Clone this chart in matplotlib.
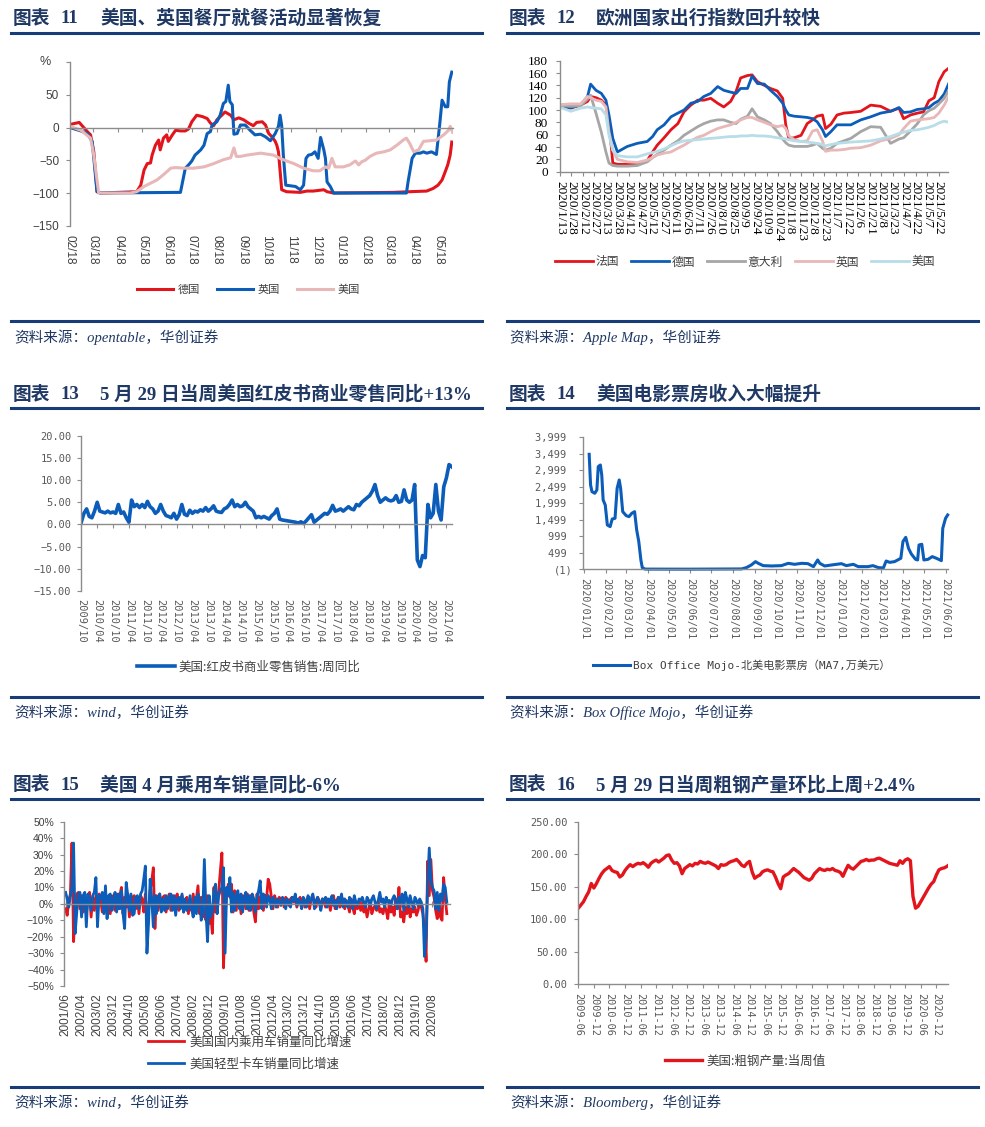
import numpy as np
import pandas as pd
import matplotlib
matplotlib.use('Agg')
import matplotlib.pyplot as plt
from matplotlib.lines import Line2D
from matplotlib.font_manager import FontProperties

# ---------------- 数据 ----------------
# 图表11 餐厅就餐(%), 横轴: 2020-02-18 起的天数
de_day = [1, 12, 22, 26, 30, 34, 38, 83, 88, 92, 96, 100, 102, 106, 110, 112, 116, 120, 122, 127,
          131, 137, 143, 147, 151, 157, 164, 170, 174, 178, 182, 188, 192, 199, 203, 209, 215, 221,
          227, 231, 238, 242, 246, 250, 254, 256, 258, 262, 268, 285, 293, 301, 314, 318, 326, 400,
          420, 441, 449, 455, 460, 464, 467, 470, 472]
de_val = [5, 8, -6, -11, -37, -98, -100, -98, -88, -65, -55, -54, -42, -27, -19, -34, -16, -11, -21, -11,
          -4, -5, -5, -2, 9, 19, 17, 14, 7, 3, 12, 19, 24, 19, 12, 15, 12, 7,
          3, 8, 9, 4, -9, -14, -21, -27, -37, -95, -98, -99, -97, -97, -95, -98, -100, -99,
          -98, -97, -93, -88, -80, -67, -57, -42, -22]
uk_day = [1, 14, 22, 28, 34, 38, 137, 143, 147, 151, 155, 162, 166, 170, 174, 176, 182, 186, 190, 193,
          196, 198, 201, 203, 207, 211, 217, 223, 229, 236, 242, 248, 254, 258, 260, 262, 264, 267,
          273, 279, 285, 289, 292, 295, 299, 303, 307, 310, 314, 316, 318, 322, 326, 416, 418, 423,
          427, 433, 437, 441, 447, 453, 457, 460, 464, 467, 469, 472]
uk_val = [0, -5, -9, -21, -98, -100, -99, -62, -57, -51, -42, -34, -27, -9, -6, 4, 9, 19, 37, 40,
          65, 40, 35, -10, -9, 4, 4, -4, -11, -10, -14, -20, -9, 2, 19, 3, -42, -88,
          -89, -90, -95, -88, -47, -42, -41, -37, -47, -15, -34, -47, -83, -90, -100, -100, -83, -47,
          -39, -39, -37, -39, -37, -41, 4, 42, 32, 32, 70, 85]
us_day = [1, 14, 26, 30, 36, 75, 83, 92, 100, 108, 116, 125, 131, 141, 153, 166, 178, 190, 199, 203,
          206, 211, 219, 236, 252, 260, 268, 277, 289, 301, 309, 316, 320, 324, 328, 338, 346, 353,
          357, 361, 365, 371, 379, 388, 396, 404, 412, 416, 420, 425, 431, 437, 445, 453, 462, 468,
          470, 473]
us_val = [2, -4, -16, -42, -100, -100, -98, -90, -85, -80, -72, -62, -61, -62, -62, -60, -55, -49, -46, -31,
          -44, -44, -42, -39, -42, -47, -51, -55, -62, -66, -66, -60, -62, -47, -60, -60, -57, -51,
          -57, -52, -50, -44, -39, -37, -34, -27, -19, -16, -24, -37, -34, -21, -20, -19, -11, -4,
          2, -7]

# 图表12 Apple 出行指数, 横轴: 2020-01-13 起的天数
ap_day = [3, 14, 27, 36, 40, 47, 54, 60, 64, 69, 75, 88, 101, 114, 121, 127, 136, 145, 154, 162,
          171, 180, 188, 197, 206, 214, 223, 230, 236, 245, 251, 258, 267, 275, 284, 291, 295, 299,
          306, 315, 323, 330, 336, 343, 347, 354, 362, 371, 380, 393, 406, 419, 432, 443, 449, 458,
          467, 475, 482, 489, 495, 502, 508]
fr_idx = [107, 103, 108, 114, 122, 120, 116, 108, 81, 14, 12, 12, 12, 18, 32, 43, 55, 68, 78, 97,
          108, 116, 116, 119, 111, 105, 114, 130, 152, 156, 157, 146, 140, 135, 131, 119, 76, 54,
          55, 59, 78, 84, 90, 92, 70, 77, 92, 95, 96, 98, 108, 106, 98, 103, 86, 92,
          95, 97, 115, 120, 146, 162, 168]
ge_idx = [105, 104, 108, 122, 142, 132, 127, 116, 92, 54, 32, 41, 46, 49, 57, 68, 76, 89, 95, 100,
          111, 114, 122, 127, 138, 132, 129, 127, 135, 135, 155, 143, 142, 132, 122, 111, 100, 92,
          90, 89, 88, 86, 81, 68, 57, 65, 76, 76, 76, 84, 89, 95, 98, 104, 96, 97,
          101, 102, 104, 111, 115, 126, 143]
it_idx = [107, 106, 107, 118, 124, 95, 64, 32, 14, 10, 9, 9, 10, 16, 23, 28, 35, 43, 50, 59,
          66, 73, 78, 82, 84, 84, 80, 78, 85, 90, 102, 89, 84, 78, 65, 53, 47, 43,
          41, 41, 41, 43, 46, 38, 35, 38, 46, 50, 54, 65, 73, 72, 46, 53, 55, 66,
          78, 92, 99, 103, 110, 119, 132]
gb_idx = [109, 110, 110, 122, 120, 116, 114, 105, 65, 35, 20, 16, 15, 19, 23, 27, 30, 32, 38, 43,
          50, 56, 59, 65, 70, 73, 76, 80, 84, 88, 88, 84, 80, 76, 73, 75, 70, 58,
          52, 49, 50, 66, 68, 50, 33, 35, 35, 36, 38, 39, 43, 50, 54, 60, 70, 82,
          84, 85, 86, 88, 95, 108, 122]
am_idx = [103, 98, 103, 105, 104, 103, 102, 92, 59, 35, 26, 24, 24, 29, 31, 33, 37, 42, 47, 50,
          51, 52, 53, 54, 55, 56, 57, 57, 58, 58, 59, 58, 58, 57, 55, 54, 53, 52,
          50, 49, 48, 47, 46, 44, 42, 44, 46, 47, 48, 49, 50, 53, 57, 62, 64, 67,
          68, 70, 72, 75, 79, 82, 80]

# 图表13 红皮书零售周同比, 按月 (2009/10 起)
redbook = [0.5, 2.5, 3.5, 1.8, 1.5, 3.0, 5.0, 3.0, 2.8, 2.6,
           3.0, 2.6, 2.8, 2.5, 4.5, 2.5, 2.8, 1.5, 0.5, 5.5,
           4.0, 4.5, 3.8, 4.5, 3.8, 5.2, 4.0, 3.5, 2.5, 3.0,
           4.5, 3.0, 2.0, 1.8, 1.5, 2.5, 1.2, 2.2, 4.5, 2.3,
           2.0, 3.2, 2.5, 3.0, 2.8, 3.3, 3.0, 3.8, 3.0, 3.5,
           4.2, 3.0, 2.8, 2.7, 3.5, 3.8, 4.5, 5.5, 4.0, 4.5,
           4.0, 4.2, 5.0, 4.0, 3.5, 3.0, 1.5, 1.8, 1.5, 1.8,
           1.5, 1.2, 2.0, 2.5, 3.5, 1.2, 1.0, 0.9, 0.8, 0.7,
           0.6, 0.5, 0.3, 0.6, 0.2, 0.8, 1.5, 2.2, 0.5, 1.0,
           1.5, 2.0, 2.5, 2.3, 3.0, 4.3, 3.0, 3.2, 3.5, 3.0,
           3.5, 4.0, 3.5, 3.3, 4.5, 4.2, 5.0, 5.5, 6.0, 6.5,
           7.5, 9.0, 6.5, 5.0, 5.5, 6.0, 5.5, 5.3, 5.5, 6.5,
           5.0, 5.2, 7.8, 5.5, 5.0, 5.5, 9.0, -8.0, -9.5, -7.0,
           -7.5, 4.5, 1.5, 2.5, 9.0, 3.0, 1.0, 8.5, 10.5, 13.5,
           13.0]

# 图表14 北美票房 MA7(万美元), 横轴: 2020-01-01 起的天数
bo_day = [7, 9, 11, 15, 18, 20, 23, 25, 27, 30, 33, 37, 40, 44, 47, 50, 52, 55, 60, 64,
          68, 72, 75, 78, 81, 83, 87, 150, 225, 232, 239, 245, 249, 256, 268, 282, 292, 301, 311, 320,
          328, 334, 337, 344, 354, 368, 375, 385, 392, 406, 413, 421, 428, 432, 437, 444, 453, 456,
          460, 464, 468, 474, 477, 479, 483, 486, 492, 498, 504, 511, 513, 517, 520]
bo_val = [3484, 2555, 2352, 2302, 2403, 3110, 3160, 2857, 2100, 1948, 1342, 1292, 1524, 1544, 2453,
          2706, 2453, 1746, 1625, 1595, 1696, 1746, 1191, 837, 282, 50, 5, 3, 10, 50,
          130, 231, 180, 110, 100, 110, 180, 150, 180, 170, 80, 282, 180, 100, 130, 170, 110, 150,
          80, 80, 110, 50, 40, 250, 210, 231, 332, 837, 968, 635, 464, 302, 282, 736, 757, 282,
          302, 383, 332, 262, 1241, 1544, 1645]

# 图表15 月度同比(%), 2001/06 起
car_yoy = [-3, -7, 2, 6, 37, -23, -5,
           6, 7, -3, 5, -5, 6, -6, 3, 7, -8, 4, -4,
           5, -3, 6, 2, -5, 4, 7, -4, 3, -6, 5, 2,
           -4, 6, -3, 5, 10, -6, 4, -2, 6, -8, 5, -4,
           5, -3, 4, -6, 5, 3, -5, 6, -10, -4, 8, 14,
           22, -15, 5, -4, 6, -3, 4, 5, -5, 3, 6, -4,
           5, -3, 4, 6, -4, 3, 5, -5, 2, 4, -6, 3,
           -4, 6, -5, 3, 11, -6, 4, -8, -3, -10, 5, -12,
           -6, -18, 10, -5, 4, 8, 20, 31, -39, -8, 6, 12,
           4, 12, -5, 8, -4, 6, 3, -6, 5, 4, -3, 6,
           -4, 5, 3, -5, -11, 6, -3, 4, 6, -4, 5, 3,
           15, 12, 4, -3, 5, 2, -2, 4, 1, 3, -2, 4,
           2, -1, 3, 4, 1, 3, -2, 2, 4, 1, 3, -2,
           2, 4, -3, 3, 5, 1, -2, 4, 2, -3, 3, 1,
           -2, 3, 1, -4, 2, 5, -3, 2, 4, -2, 1, 3,
           -3, 2, -1, -5, 3, -2, -6, 1, -3, 2, -4, 1,
           -5, -2, -8, -3, 2, -6, -3, -1, -4, 2, -5, -3,
           -6, -1, -4, -9, 2, -5, -2, -7, 3, -3, 10, -8,
           -5, -11, -2, -6, 3, -8, -3, -5, -2, -7, -4, 1,
           -2, -6, -15, -35, 26, 5, 27, 8, 4, -4, -9, 3, -8, -10, 16, 4, -6]
truck_yoy = [7, 3, -2, 5, 10, 37, -18,
             -5, 6, 7, -8, 5, 7, -14, 6, 3, -4, 5, 7,
             16, -14, 5, 3, 7, -6, 11, -9, 5, 6, -4, 3,
             7, -5, 6, -3, 8, -6, -15, 13, 5, -4, 6, -7,
             -6, 4, 5, -3, 6, 8, 15, 23, -30, -12, 15, 3,
             -14, 5, -6, 4, 6, -5, 3, -4, 5, -3, 4, 6,
             -4, 5, -7, 3, 4, -3, 6, -5, 3, -4, -2, 5,
             -3, -8, 4, -6, 6, 3, -10, -5, 27, -5, -23, 5,
             -8, -4, 8, 12, -6, 5, 8, 10, 22, -30, 10, 5,
             16, -5, 7, -4, 5, 8, -3, 6, -5, 4, 7, -3,
             5, -4, 6, 3, -5, 4, 8, 14, -3, 6, 4, -2,
             5, 3, -3, 4, 2, -2, 3, 1, -1, 4, 2, -3,
             3, 1, -2, 4, 2, 6, -1, 3, 1, -3, 4, 2,
             -2, 5, 1, 3, 6, -3, 2, 4, 1, -4, 3, 2,
             4, -2, 3, 1, 5, -1, 2, -3, 4, 1, 6, -2,
             3, 1, -2, 4, 2, -3, 5, 1, -1, 3, 2, 4,
             1, -2, 4, 2, -1, 3, 5, 1, -3, 2, 7, 1,
             3, -2, 4, 1, 2, -1, 3, 5, 2, -3, 4, 1,
             6, -4, 7, 3, -2, 5, 1, -3, 4, 2, -1, 3,
             1, -3, -32, -20, 12, 34, 15, 10, 8, -3, 7, -4, 6, 2, 12, 10, 1]

# 图表16 美国粗钢产量当周值, 按月 (2009-06 起)
steel = [117, 122, 127, 135, 142, 155, 148, 155, 163, 170,
         175, 178, 181, 175, 173, 172, 165, 168, 175, 180,
         184, 181, 184, 186, 185, 187, 184, 180, 186, 189,
         191, 188, 191, 194, 198, 199, 191, 186, 187, 182,
         170, 178, 181, 184, 182, 186, 185, 189, 187, 186,
         188, 186, 184, 182, 178, 184, 183, 184, 187, 189,
         190, 192, 188, 183, 181, 186, 189, 173, 163, 166,
         168, 173, 175, 176, 174, 173, 165, 155, 147, 165,
         168, 170, 174, 178, 175, 172, 168, 164, 162, 160,
         163, 170, 174, 178, 176, 175, 177, 176, 178, 175,
         174, 172, 166, 175, 183, 179, 177, 181, 185, 189,
         190, 192, 190, 191, 191, 193, 194, 192, 190, 188,
         186, 185, 184, 183, 190, 186, 191, 193, 190, 135,
         117, 120, 127, 134, 141, 148, 154, 158, 168, 176,
         178, 179, 181, 184]

# ---------------- 样式 ----------------
W, H = 985, 1127
NAVY = '#173C78'
TITLE_C = '#1F3864'
GRAY = '#8C8C8C'
DARK = '#404040'
MID = '#595959'
RED = '#E3151C'
BLUE = '#0B5DB9'
PINK = '#E8B7B7'
LGRAY = '#A6A6A6'
LBLUE = '#B7DDE8'
CJK = 'Noto Sans CJK SC'
MONO = 'DejaVu Sans Mono'

plt.rcParams['font.family'] = ['Liberation Sans', CJK]

fig = plt.figure(figsize=(W / 100, H / 100), dpi=100)


def fx(px):
    return px / W


def fy(py):
    return 1 - py / H


def box(l, t, r, b):
    return [l / W, 1 - b / H, (r - l) / W, (b - t) / H]


def frame(x0, y_title, y_top, y_bot, num, text, source):
    fig.text(fx(x0 + 2), fy(y_title), '图表', family=CJK, weight='bold', size=13.5,
             color=TITLE_C, va='center')
    fig.text(fx(x0 + 49), fy(y_title), num, family='Liberation Serif', weight='bold',
             size=13.5, color=TITLE_C, va='center')
    fig.text(fx(x0 + 89), fy(y_title), text, family=['Liberation Serif', CJK], weight='bold',
             size=13.5, color=TITLE_C, va='center')
    for y in (y_top, y_bot):
        fig.add_artist(Line2D([fx(x0), fx(x0 + 471)], [fy(y), fy(y)],
                              transform=fig.transFigure, color=NAVY, lw=2.2))
    fig.text(fx(x0 + 3), fy(y_bot + 16), source, family=['Liberation Serif', CJK],
             style='italic', size=10.5, color=TITLE_C, va='center')


def panel_axes(l, t, r, b):
    ax = fig.add_axes(box(l, t, r, b))
    ax.patch.set_alpha(0)
    for s in ('top', 'right'):
        ax.spines[s].set_visible(False)
    for s in ('left', 'bottom'):
        ax.spines[s].set_color(GRAY)
        ax.spines[s].set_linewidth(1.0)
    ax.tick_params(axis='both', color=GRAY, length=3, width=0.8)
    return ax


def legend(ax, handles, labels, cx, cy, ncol, fp, hl, htp, cs, ls=0.5):
    ax.legend(handles, labels, loc='center', bbox_to_anchor=(fx(cx), fy(cy)),
              bbox_transform=fig.transFigure, ncol=ncol, frameon=False, prop=fp,
              handlelength=hl, handletextpad=htp, columnspacing=cs, labelspacing=ls,
              labelcolor=DARK, borderaxespad=0, borderpad=0)


def neg(s):
    return s.replace('-', '\u2212')


# ---------------- 图表11 ----------------
frame(11, 18.5, 33.3, 321, '11', '美国、英国餐厅就餐活动显著恢复', '资料来源：opentable，华创证券')
ax1 = panel_axes(69.5, 62.3, 452.6, 225.7)
h_de, = ax1.plot(de_day, de_val, color=RED, lw=2.2)
h_uk, = ax1.plot(uk_day, uk_val, color=BLUE, lw=2.2)
h_us, = ax1.plot(us_day, us_val, color=PINK, lw=2.2)
ax1.set_xlim(0, 473)
ax1.set_ylim(-150, 100)
ax1.spines['bottom'].set_position(('data', 0))
m1 = pd.date_range('2020-02-18', '2021-05-18', freq=pd.DateOffset(months=1))
ax1.set_xticks((m1 - m1[0]).days, m1.strftime('%m/%d'), rotation=270,
               fontfamily='Liberation Sans', fontsize=8.5, color=DARK)
ax1.tick_params(axis='x', pad=74)
yt1 = np.arange(-150, 101, 50)
ax1.set_yticks(yt1, [neg(str(v)) if v < 100 else '' for v in yt1],
               fontfamily='Liberation Sans', fontsize=8.5, color=DARK)
ax1.tick_params(axis='y', pad=4.5)
ax1.text(-0.064, 100, '%', transform=ax1.get_yaxis_transform(), ha='center', va='center',
         fontsize=9, color=DARK, family='Liberation Sans')
legend(ax1, [h_de, h_uk, h_us], ['德国', '英国', '美国'], 248.5, 290, 3,
       FontProperties(family=CJK, size=8), 3.25, 0.45, 1.5)

# ---------------- 图表12 ----------------
frame(507, 18.5, 33.3, 321, '12', '欧洲国家出行指数回升较快', '资料来源：Apple Map，华创证券')
ax2 = panel_axes(560, 60.7, 948, 171.7)
h2 = []
for vals, c in [(fr_idx, RED), (ge_idx, BLUE), (it_idx, LGRAY), (gb_idx, PINK), (am_idx, LBLUE)]:
    h, = ax2.plot(ap_day, vals, color=c, lw=2.0)
    h2.append(h)
ax2.set_xlim(0, 507)
ax2.set_ylim(0, 180)
d2 = pd.date_range('2020-01-13', periods=34, freq='15D')
ax2.set_xticks((d2 - d2[0]).days, [f'{d.year}/{d.month}/{d.day}' for d in d2], rotation=270,
               fontfamily='Liberation Serif', fontsize=9.5, color='black')
ax2.tick_params(axis='x', pad=3.7)
yt2 = np.arange(0, 181, 20)
ax2.set_yticks(yt2, [str(v) for v in yt2], fontfamily='Liberation Serif', fontsize=9.5,
               color='black')
ax2.tick_params(axis='y', pad=5.5)
legend(ax2, h2, ['法国', '德国', '意大利', '英国', '美国'], 745, 262, 5,
       FontProperties(family=CJK, size=8.5), 3.2, 0.25, 1.0)

# ---------------- 图表13 ----------------
frame(11, 394.5, 408.3, 696.7, '13', '5 月 29 日当周美国红皮书商业零售同比+13%',
      '资料来源：wind，华创证券')
ax3 = panel_axes(81.3, 435.7, 451.7, 591)
h3, = ax3.plot(np.arange(len(redbook)), redbook, color=BLUE, lw=2.6)
ax3.set_xlim(0, 140)
ax3.set_ylim(-15, 20)
ax3.spines['bottom'].set_position(('data', 0))
d3 = pd.date_range('2009-10-01', periods=24, freq=pd.DateOffset(months=6))
ax3.set_xticks(np.arange(24) * 6, d3.strftime('%Y/%m'), rotation=270,
               fontfamily=MONO, fontsize=7.5, color=MID)
ax3.tick_params(axis='x', pad=50.8)
yt3 = np.arange(-15, 21, 5)
ax3.set_yticks(yt3, [neg(f'{v:.2f}') for v in yt3], fontfamily=MONO, fontsize=7.5, color=MID)
ax3.tick_params(axis='y', pad=4)
legend(ax3, [h3], ['美国:红皮书商业零售销售:周同比'], 249, 667.3, 1,
       FontProperties(family=CJK, size=9), 3.0, 0.32, 1.0)

# ---------------- 图表14 ----------------
frame(507, 394.5, 408.3, 696.7, '14', '美国电影票房收入大幅提升', '资料来源：Box Office Mojo，华创证券')
ax4 = panel_axes(583.3, 437.3, 948, 569.3)
h4, = ax4.plot(bo_day, bo_val, color=BLUE, lw=2.2, clip_on=False)
ax4.set_xlim(-1.4, 520.5)
ax4.set_ylim(-1, 3999)
d4 = pd.date_range('2020-01-01', '2021-06-01', freq='MS')
ax4.set_xticks((d4 - d4[0]).days, d4.strftime('%Y/%m/%d'), rotation=270,
               fontfamily=MONO, fontsize=7.3, color=MID)
ax4.tick_params(axis='x', pad=3)
yt4 = np.arange(-1, 4000, 500)
ax4.set_yticks(yt4, ['(1)' if v < 0 else f'{v:,} ' for v in yt4], fontfamily=MONO,
               fontsize=7.5, color=MID)
ax4.tick_params(axis='y', pad=4.7)
legend(ax4, [h4], ['Box Office Mojo-北美电影票房（MA7,万美元）'], 742, 665, 1,
       FontProperties(family=[MONO, CJK], size=8), 3.3, 0.27, 1.0)

# ---------------- 图表15 ----------------
frame(11, 785, 798.7, 1086.7, '15', '美国 4 月乘用车销量同比-6%', '资料来源：wind，华创证券')
ax5 = panel_axes(64, 821.7, 450, 986)
mx = np.arange(len(car_yoy))
h5a, = ax5.plot(mx, car_yoy, color=RED, lw=2.0)
h5b, = ax5.plot(mx, truck_yoy, color=BLUE, lw=2.0)
ax5.set_xlim(-1, 241)
ax5.set_ylim(-50, 50)
ax5.spines['bottom'].set_position(('data', 0))
d5 = pd.date_range('2001-06-01', periods=24, freq=pd.DateOffset(months=10))
ax5.set_xticks(np.arange(24) * 10, d5.strftime('%Y/%m'), rotation=90,
               fontfamily='Liberation Sans', fontsize=8.5, color=DARK)
ax5.tick_params(axis='x', direction='inout', length=4, pad=62.5)
yt5 = np.arange(-50, 51, 10)
ax5.set_yticks(yt5, [neg(f'{v}%') for v in yt5], fontfamily='Liberation Sans', fontsize=7.5,
               color=DARK)
ax5.tick_params(axis='y', pad=4.3)
legend(ax5, [h5a, h5b], ['美国国内乘用车销量同比增速', '美国轻型卡车销量同比增速'], 250, 1053, 1,
       FontProperties(family=CJK, size=9), 2.9, 0.4, 1.0, ls=0.75)

# ---------------- 图表16 ----------------
frame(507, 785, 798.7, 1086.7, '16', '5 月 29 日当周粗钢产量环比上周+2.4%',
      '资料来源：Bloomberg，华创证券')
ax6 = panel_axes(578.3, 821.7, 948, 984.3)
h6, = ax6.plot(np.arange(len(steel)), steel, color=RED, lw=2.4)
ax6.set_xlim(0, 142.5)
ax6.set_ylim(0, 250)
d6 = pd.date_range('2009-06-01', periods=24, freq=pd.DateOffset(months=6))
ax6.set_xticks(np.arange(24) * 6, d6.strftime('%Y-%m'), rotation=270,
               fontfamily=MONO, fontsize=7.4, color=MID)
ax6.tick_params(axis='x', pad=3)
yt6 = np.arange(0, 251, 50)
ax6.set_yticks(yt6, [f'{v:.2f}' for v in yt6], fontfamily=MONO, fontsize=7.5, color=MID)
ax6.tick_params(axis='y', pad=4.7)
legend(ax6, [h6], ['美国:粗钢产量:当周值'], 745, 1061, 1,
       FontProperties(family=CJK, size=9), 3.0, 0.32, 1.0)

fig.savefig('out.png', dpi=100)
